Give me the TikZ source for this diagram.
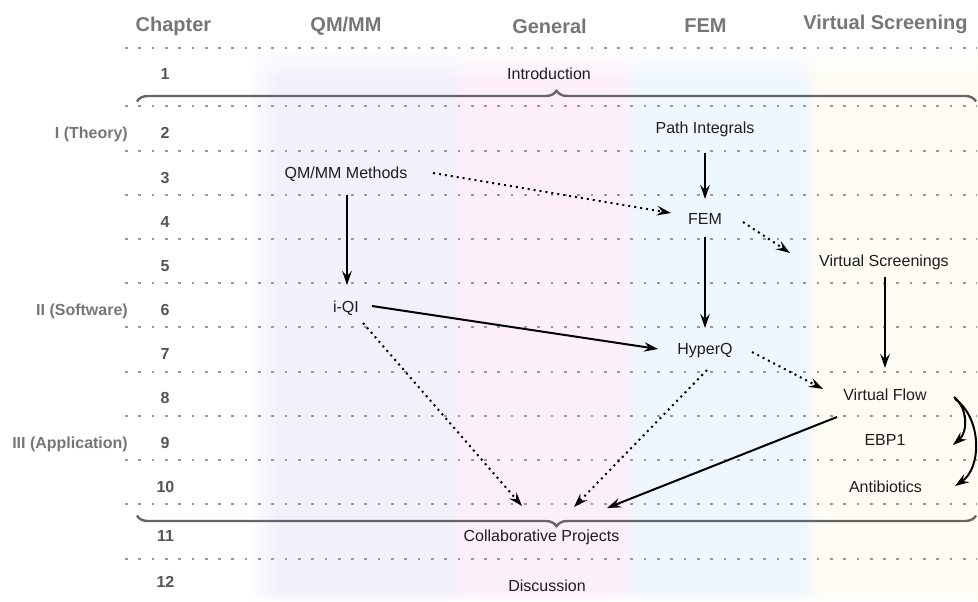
\documentclass[tikz,border=0pt]{standalone}
\usepackage{fontspec}
\setmainfont{Liberation Sans}
\usetikzlibrary{arrows.meta, decorations.pathreplacing, calc, fadings}

\definecolor{hdrc}{HTML}{767676}
\definecolor{numc}{HTML}{555555}
\definecolor{partc}{HTML}{767676}
\definecolor{txtc}{HTML}{1E1E1E}
\definecolor{dotc}{HTML}{999999}
\definecolor{bracec}{HTML}{666666}
\definecolor{lav}{HTML}{F1F0FB}
\definecolor{pnk}{HTML}{FCEFFA}
\definecolor{blu}{HTML}{EEF6FE}
\definecolor{crm}{HTML}{FFFCF3}

\tikzfading[name=topfade, top color=transparent!0, bottom color=transparent!100]
\tikzfading[name=botfade, top color=transparent!100, bottom color=transparent!0]

\begin{document}
\begin{tikzpicture}[x=1pt, y=-1pt,
  hdr/.style={font=\fontsize{20}{24}\selectfont\bfseries, text=hdrc, inner sep=0pt, text height=14.3pt, text depth=0pt},
  num/.style={font=\fontsize{16}{19}\selectfont\bfseries, text=numc, inner sep=0pt, text height=11.5pt, text depth=0pt},
  part/.style={font=\fontsize{16}{19}\selectfont\bfseries, text=partc, inner sep=0pt, text height=11.5pt, text depth=0pt, anchor=east},
  lbl/.style={font=\fontsize{16}{19}\selectfont, text=txtc, inner sep=0pt, text height=11.5pt, text depth=0pt},
  sep/.style={draw=dotc, line width=2.7pt, dash pattern=on 2.7pt off 10.6pt},
  brc/.style={draw=bracec, line width=2.4pt, line join=round, decorate, decoration={brace, amplitude=11pt}},
  arr/.style={draw=black, line width=2pt, -{Stealth[length=14pt, width=9.5pt, inset=5pt]}},
  darr/.style={arr, dash pattern=on 2pt off 4pt}
]
\useasboundingbox (0,0) rectangle (978,602);

% column bands
\shade[left color=white, right color=lav] (246,48) rectangle (278.5,602);
\fill[lav] (278,48) rectangle (448.5,602);
\shade[left color=lav, right color=pnk] (448,48) rectangle (466.5,602);
\fill[pnk] (466,48) rectangle (620.5,602);
\shade[left color=pnk, right color=blu] (620,48) rectangle (640.5,602);
\fill[blu] (640,48) rectangle (800.5,602);
\shade[left color=blu, right color=crm] (800,48) rectangle (820.5,602);
\fill[crm] (820,48) rectangle (978,602);
\fill[white, path fading=topfade] (236,46) rectangle (978,84);
\fill[white, path fading=botfade] (236,590) rectangle (978,603);

% row separators
\foreach \yy in {48,106,151,195,239,283,327,372,416,460,504,559}
  \draw[sep] (125,\yy) -- (977,\yy);

% column headers
\node[hdr] (hchap) at (173.5,24.5) {Chapter};
\node[hdr] (hqm)   at (346,24.5)   {QM/MM};
\node[hdr] (hgen)  at (549.5,26)   {General};
\node[hdr] (hfem)  at (705.5,25.3) {FEM};
\node[hdr] (hvs)   at (885.5,22.8) {Virtual Screening};

% chapter numbers
\node[num] (n1)  at (165,74)    {1};
\node[num] (n2)  at (165,133)   {2};
\node[num] (n3)  at (165,177.5) {3};
\node[num] (n4)  at (165,221.5) {4};
\node[num] (n5)  at (165,265.5) {5};
\node[num] (n6)  at (165,310)   {6};
\node[num] (n7)  at (165,353.5) {7};
\node[num] (n8)  at (165,398)   {8};
\node[num] (n9)  at (165,442.5) {9};
\node[num] (n10) at (165.5,487) {10};
\node[num] (n11) at (165.5,536) {11};
\node[num] (n12) at (165.5,582) {12};

% parts
\node[part] (p1) at (128,133)   {I (Theory)};
\node[part] (p2) at (128,310)   {II (Software)};
\node[part] (p3) at (128,442.5) {III (Application)};

% braces
\draw[brc] (137,101.5) -- (976,101.5);
\draw[brc] (976,515.5) -- (137,515.5);

% chapters
\node[lbl] (intro)  at (549,74)      {Introduction};
\node[lbl] (pi)     at (705,127.5)   {Path Integrals};
\node[lbl] (qm)     at (346,172.5)   {QM/MM Methods};
\node[lbl] (fem)    at (705,218.5)   {FEM};
\node[lbl] (vs)     at (884,260.5)   {Virtual Screenings};
\node[lbl] (iqi)    at (346,307)     {i-QI};
\node[lbl] (hq)     at (705,349)     {HyperQ};
\node[lbl] (vf)     at (885,395)     {Virtual Flow};
\node[lbl] (ebp)    at (885,440)     {EBP1};
\node[lbl] (anti)   at (885.5,486.5) {Antibiotics};
\node[lbl] (collab) at (541.5,536)   {Collaborative Projects};
\node[lbl] (disc)   at (547,585.5)   {Discussion};

% dependencies
\draw[arr]  ($(pi)+(0,25.5)$)   -- ($(fem)+(0,-19.5)$);
\draw[arr]  ($(qm)+(1,22.5)$)   -- ($(iqi)+(1,-22)$);
\draw[arr]  ($(fem)+(0,18.5)$)  -- ($(hq)+(0,-21)$);
\draw[arr]  ($(vs)+(1,16.5)$)   -- ($(vf)+(0,-27)$);
\draw[arr]  ($(iqi)+(26,-1)$)   -- ($(hq)+(-47,0)$);
\draw[darr] ($(qm)+(87,0.5)$)   -- ($(fem)+(-34,-5.5)$);
\draw[darr] ($(fem)+(38,3.5)$)  -- ($(vs)+(-94,-7.5)$);
\draw[darr] ($(hq)+(47,3)$)     -- ($(vf)+(-62,-6)$);
\draw[darr] ($(iqi)+(17,16)$)   -- ($(collab)+(-19.5,-30)$);
\draw[darr] ($(hq)+(2,21)$)     -- ($(collab)+(32.5,-29)$);
\draw[arr]  ($(vf)+(-48,22)$)   -- ($(collab)+(65.5,-28)$);
\draw[arr]  ($(vf)+(69,2)$) .. controls ($(vf)+(83,13)$) and ($(ebp)+(83,-8)$) .. ($(ebp)+(68,5)$);
\draw[arr]  ($(vf)+(70,4)$) .. controls ($(vf)+(97,23)$) and ($(anti)+(96.5,-18.5)$) .. ($(anti)+(69.5,-0.5)$);
\end{tikzpicture}
\end{document}
